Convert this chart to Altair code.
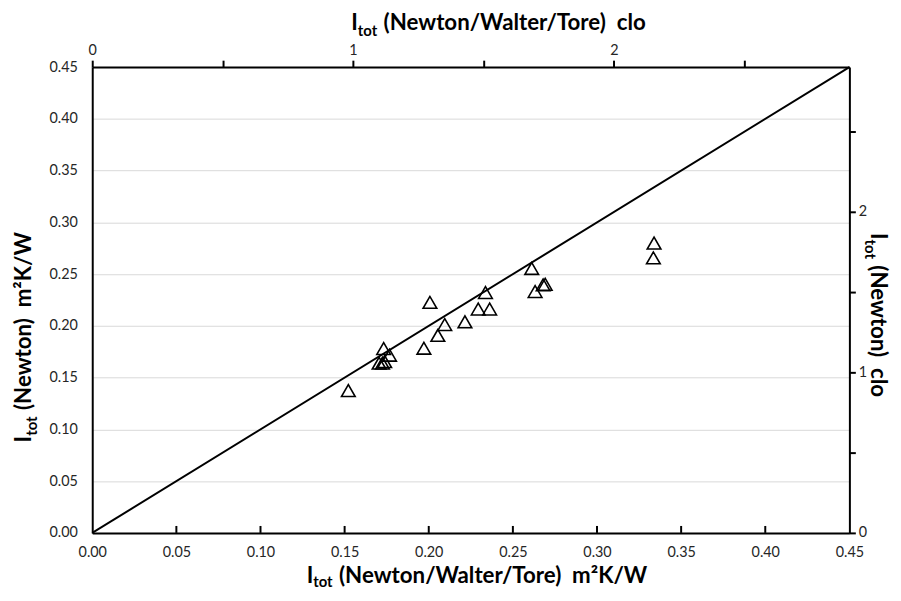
import altair as alt
import pandas as pd

# Data
x_nwt = [0.1522, 0.1732, 0.1767, 0.1705, 0.1725, 0.1738, 0.1971, 0.2007, 0.2054, 0.2095,
         0.2215, 0.2294, 0.2362, 0.2337, 0.2612, 0.2632, 0.2680, 0.2692, 0.3335, 0.3339]
y_newton = [0.1375, 0.1781, 0.1717, 0.1640, 0.1640, 0.1655, 0.1784, 0.2227, 0.1908, 0.2013,
            0.2039, 0.2163, 0.2163, 0.2322, 0.2555, 0.2332, 0.2396, 0.2402, 0.2657, 0.2800]
line_x = [0.0, 0.45]
line_y = [0.0, 0.45]
si_ticks = [0.00, 0.05, 0.10, 0.15, 0.20, 0.25, 0.30, 0.35, 0.40, 0.45]
inner_ticks = [0.05, 0.10, 0.15, 0.20, 0.25, 0.30, 0.35, 0.40]
clo_ticks = [0, 0.5, 1, 1.5, 2, 2.5]
clo_top_max = 0.45 / 0.155
clo_right_max = 0.45 / 0.155

FONT = "Lato"
LBL = "#262626"
W, H = 764, 470
NB = "\u00a0"

xs = alt.Scale(domain=[0, 0.45], nice=False, zero=False)
ys = alt.Scale(domain=[0, 0.45], nice=False, zero=False)

pts = alt.Chart(pd.DataFrame({"x": x_nwt, "y": y_newton})).mark_point(
    shape="triangle-up", size=190, filled=False, color="black", strokeWidth=1.6, opacity=1
).encode(
    x=alt.X("x:Q", scale=xs, axis=alt.Axis(values=si_ticks, format=".2f", ticks=False, grid=False,
                                           domainColor="black", domainWidth=2, labelPadding=13,
                                           labelFontSize=14.5, labelFont=FONT, labelColor=LBL,
                                           labelFlush=False, labelOverlap=False, title=None)),
    y=alt.Y("y:Q", scale=ys, axis=alt.Axis(values=si_ticks, format=".2f", ticks=False, grid=True,
                                           gridColor="#d9d9d9", gridWidth=1,
                                           domainColor="black", domainWidth=2, labelPadding=15,
                                           labelFontSize=14.5, labelFont=FONT, labelColor=LBL,
                                           labelFlush=False, labelOverlap=False, title=None)),
)

diag = alt.Chart(pd.DataFrame({"x": line_x, "y": line_y})).mark_line(
    color="black", strokeWidth=2
).encode(x=alt.X("x:Q", scale=xs), y=alt.Y("y:Q", scale=ys))

ticks_in = alt.Chart(pd.DataFrame({"x": inner_ticks})).mark_rule(
    color="black", strokeWidth=2
).encode(x=alt.X("x:Q", scale=xs), y=alt.value(H), y2=alt.value(H - 7))

one = pd.DataFrame({"a": [0]})


def txt(s, x, y, size, angle=0, align="left"):
    return alt.Chart(one).mark_text(
        text=s, font=FONT, fontSize=size, fontWeight="bold", align=align,
        baseline="alphabetic", angle=angle, color="black"
    ).encode(x=alt.value(x), y=alt.value(y))


MAIN, SUB, WSUB = 22.5, 15, 26
texts = []
# bottom title
sx, by = 223, 521
texts += [txt("I", sx, by, MAIN, align="right"), txt("tot", sx, by + 4, SUB),
          txt("(Newton/Walter/Tore)" + NB + NB + "m²K/W", sx + WSUB, by, MAIN)]
# top title
sx, by = 268, -37
texts += [txt("I", sx, by, MAIN, align="right"), txt("tot", sx, by + 6, SUB),
          txt("(Newton/Walter/Tore)" + NB + NB + "clo", sx + WSUB, by, MAIN)]
# left title (reads upward)
bx, sy = -62, 372
texts += [txt("I", bx, sy, MAIN, angle=270, align="right"), txt("tot", bx + 6, sy, SUB, angle=270),
          txt("(Newton)" + NB + NB + "m²K/W", bx, sy - WSUB, MAIN, angle=270)]
# right title (reads downward)
bx, sy = 786, 174
texts += [txt("I", bx, sy, MAIN, angle=90, align="right"), txt("tot", bx - 6, sy, SUB, angle=90),
          txt("(Newton)" + NB + NB + "clo", bx, sy + WSUB, MAIN, angle=90)]

main = alt.layer(pts, diag, ticks_in, *texts)

sec = alt.Chart(pd.DataFrame({"c": [0, 1], "r": [0, 1]})).mark_point(opacity=0).encode(
    x=alt.X("c:Q", scale=alt.Scale(domain=[0, clo_top_max], nice=False, zero=False),
            axis=alt.Axis(orient="top", values=clo_ticks, grid=False, tickSize=7, tickWidth=2,
                          tickColor="black", domainColor="black", domainWidth=2, labelPadding=3,
                          labelExpr="datum.value % 1 === 0 ? format(datum.value, 'd') : ''",
                          labelFontSize=14.5, labelFont=FONT, labelColor=LBL, labelFlush=False,
                          labelOverlap=False, title=None)),
    y=alt.Y("r:Q", scale=alt.Scale(domain=[0, clo_right_max], nice=False, zero=False),
            axis=alt.Axis(orient="right", values=clo_ticks, grid=False, tickSize=6, tickWidth=2,
                          tickColor="black", domainColor="black", domainWidth=2, labelPadding=3,
                          labelExpr="datum.value % 1 === 0 ? format(datum.value, 'd') : ''",
                          labelFontSize=14.5, labelFont=FONT, labelColor=LBL, labelFlush=False,
                          labelOverlap=False, title=None)),
)

chart = alt.layer(main, sec).resolve_scale(x="independent", y="independent").properties(
    width=W, height=H,
    padding={"left": 85, "top": 57, "right": 44, "bottom": 58},
    autosize=alt.AutoSizeParams(type="none"),
    background="white",
).configure_view(stroke=None)

chart.save("out.html", embed_options={"renderer": "svg", "actions": False})
